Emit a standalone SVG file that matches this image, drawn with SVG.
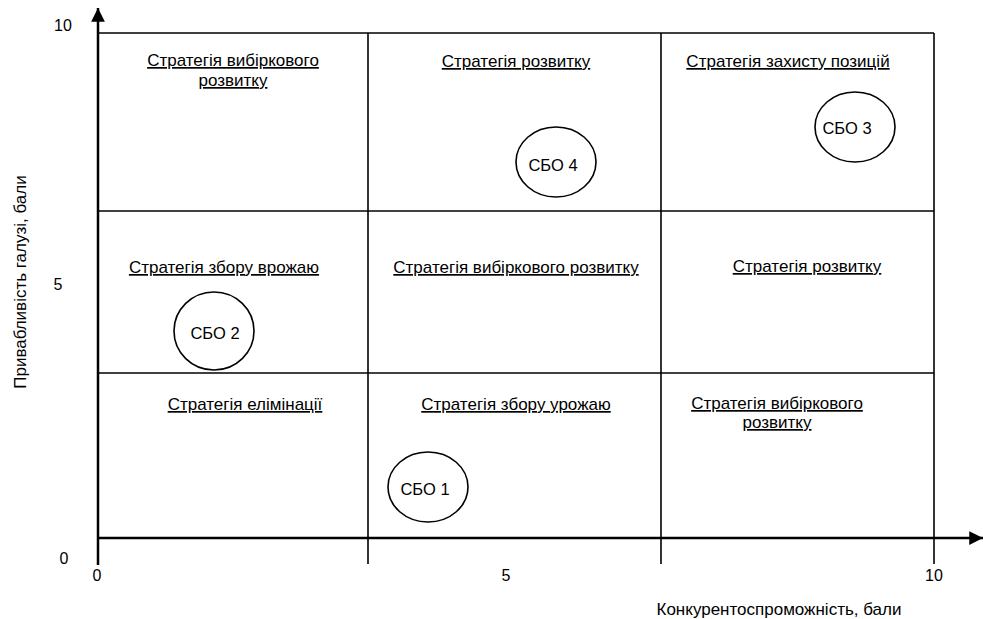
<svg xmlns="http://www.w3.org/2000/svg" width="983" height="619" viewBox="0 0 983 619">
  <style>
    .bg { fill: #ffffff; }
    .axis { stroke: #000; stroke-width: 2.5; fill: none; }
    .grid { stroke: #000; stroke-width: 1.6; fill: none; }
    .lbl { font-family: "Liberation Sans", Arial, sans-serif; font-size: 17px; fill: #000; text-anchor: middle; text-decoration: underline; }
    .num { font-family: "Liberation Sans", Arial, sans-serif; font-size: 16px; fill: #000; text-anchor: middle; }
    .ttl { font-family: "Liberation Sans", Arial, sans-serif; font-size: 17px; fill: #000; text-anchor: middle; }
    .sbo { fill: #fff; stroke: #000; stroke-width: 1.6; }
    .sbot { font-family: "Liberation Sans", Arial, sans-serif; font-size: 16.5px; fill: #000; text-anchor: middle; }
  </style>
  <defs>
    <marker id="arr" viewBox="0 0 10 10" refX="10" refY="5" markerWidth="5.5" markerHeight="5.5" orient="auto" markerUnits="strokeWidth">
      <path d="M0,0 L10,5 L0,10 Z" fill="#000"/>
    </marker>
  </defs>
  <rect class="bg" x="0" y="0" width="983" height="619"/>

  <g id="connectors">
    <line class="axis" x1="98" y1="565" x2="98" y2="8" marker-end="url(#arr)"/>
    <line class="axis" x1="98" y1="538" x2="983" y2="538" marker-end="url(#arr)"/>
    <line class="grid" x1="98" y1="33" x2="934" y2="33"/>
    <line class="grid" x1="98" y1="211" x2="934" y2="211"/>
    <line class="grid" x1="98" y1="373" x2="934" y2="373"/>
    <line class="grid" x1="368" y1="33" x2="368" y2="564"/>
    <line class="grid" x1="661" y1="33" x2="661" y2="564"/>
    <line class="grid" x1="934" y1="33" x2="934" y2="564"/>
  </g>

  <g id="axis-labels">
    <text class="num" x="63" y="31">10</text>
    <text class="num" x="58" y="290">5</text>
    <text class="num" x="64" y="564">0</text>
    <text class="num" x="97" y="581">0</text>
    <text class="num" x="506" y="581">5</text>
    <text class="num" x="934" y="581">10</text>
    <text class="ttl" x="779" y="615">Конкурентоспроможність, бали</text>
    <text class="ttl" transform="translate(26,282) rotate(-90)" x="0" y="0">Привабливість галузі, бали</text>
  </g>

  <g id="cell-top-left">
    <text class="lbl" x="233" y="66">Стратегія вибіркового</text>
    <text class="lbl" x="233" y="86">розвитку</text>
  </g>
  <g id="cell-top-mid">
    <text class="lbl" x="516" y="67">Стратегія розвитку</text>
  </g>
  <g id="cell-top-right">
    <text class="lbl" x="788" y="67">Стратегія захисту позицій</text>
  </g>
  <g id="cell-mid-left">
    <text class="lbl" x="224" y="273">Стратегія збору врожаю</text>
  </g>
  <g id="cell-mid-mid">
    <text class="lbl" x="516" y="273">Стратегія вибіркового розвитку</text>
  </g>
  <g id="cell-mid-right">
    <text class="lbl" x="807" y="272">Стратегія розвитку</text>
  </g>
  <g id="cell-bot-left">
    <text class="lbl" x="245" y="410">Стратегія елімінації</text>
  </g>
  <g id="cell-bot-mid">
    <text class="lbl" x="516" y="410">Стратегія збору урожаю</text>
  </g>
  <g id="cell-bot-right">
    <text class="lbl" x="777" y="409">Стратегія вибіркового</text>
    <text class="lbl" x="777" y="428">розвитку</text>
  </g>

  <g id="sbo1">
    <ellipse class="sbo" cx="428" cy="487" rx="40" ry="35"/>
    <text class="sbot" x="425" y="495">СБО 1</text>
  </g>
  <g id="sbo2">
    <ellipse class="sbo" cx="214" cy="331" rx="40" ry="39"/>
    <text class="sbot" x="215" y="339">СБО 2</text>
  </g>
  <g id="sbo3">
    <ellipse class="sbo" cx="855" cy="127" rx="40" ry="35"/>
    <text class="sbot" x="847" y="134">СБО 3</text>
  </g>
  <g id="sbo4">
    <ellipse class="sbo" cx="556" cy="162" rx="40" ry="35"/>
    <text class="sbot" x="553" y="171">СБО 4</text>
  </g>
</svg>
